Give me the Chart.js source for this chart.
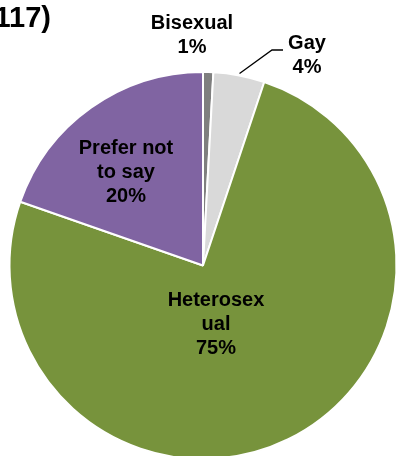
<!DOCTYPE html>
<html>
<head>
<meta charset="utf-8">
<script src="https://cdn.jsdelivr.net/npm/chart.js@4/dist/chart.umd.min.js"></script>
<style>
  html, body { margin: 0; padding: 0; background: #fff; overflow: hidden; }
  #wrap { position: absolute; left: -60px; top: 0; }
</style>
</head>
<body>
<div id="wrap"><canvas id="chart" width="470" height="470"></canvas></div>
<script>
const categories = ["Bisexual", "Gay", "Heterosexual", "Prefer not to say"];
// wrapped the way the labels are printed on the slices
const labelLines = [["Bisexual"], ["Gay"], ["Heterosex", "ual"], ["Prefer not", "to say"]];
const counts = [1, 5, 88, 23];
const sliceColors = ["#7f7f7f", "#d9d9d9", "#77933c", "#8064a2"];
const titleText = "(n=117)";

const total = counts.reduce((a, b) => a + b, 0);
const FONT = "bold 20px Arial, 'Liberation Sans', sans-serif";
const LINE_H = 24;

// label block centres, relative to the pie centre
const labelOffsets = [
  { dx: -11, dy: -230 },
  { dx: 104, dy: -210 },
  { dx: 13, dy: 59 },
  { dx: -77, dy: -93 },
];

const sliceLabels = {
  id: "sliceLabels",
  afterDatasetsDraw(chart) {
    const ctx = chart.ctx;
    const arcs = chart.getDatasetMeta(0).data;
    ctx.save();

    // title, running off the left edge
    ctx.font = "bold 29px Arial, 'Liberation Sans', sans-serif";
    ctx.fillStyle = "#000";
    ctx.textAlign = "right";
    ctx.textBaseline = "alphabetic";
    ctx.fillText(titleText, 111, 27);

    ctx.font = FONT;
    ctx.textAlign = "center";
    ctx.textBaseline = "middle";
    arcs.forEach((arc, i) => {
      const pct = Math.round(counts[i] / total * 100) + "%";
      const lines = labelLines[i].concat(pct);
      const cx = arc.x + labelOffsets[i].dx;
      const cy = arc.y + labelOffsets[i].dy;
      const y0 = cy - (lines.length - 1) * LINE_H / 2;
      lines.forEach((t, k) => ctx.fillText(t, cx, y0 + k * LINE_H));

      // leader line for the small outside label
      if (i === 1) {
        const mid = (arc.startAngle + arc.endAngle) / 2;
        const r = arc.outerRadius + 2;
        ctx.beginPath();
        ctx.moveTo(arc.x + Math.cos(mid) * r, arc.y + Math.sin(mid) * r);
        ctx.lineTo(cx - 35, cy - 5.5);
        ctx.lineTo(cx - 24, cy - 5.5);
        ctx.strokeStyle = "#000";
        ctx.lineWidth = 1.3;
        ctx.stroke();
      }
    });
    ctx.restore();
  }
};

new Chart(document.getElementById("chart"), {
  type: "pie",
  data: {
    labels: categories,
    datasets: [{
      data: counts,
      backgroundColor: sliceColors,
      borderColor: "#ffffff",
      borderWidth: 2,
      radius: 193.5,
    }],
  },
  options: {
    responsive: false,
    animation: false,
    layout: { padding: { left: 69.5, right: 13.5, top: 72, bottom: 11 } },
    plugins: {
      legend: { display: false },
      tooltip: { enabled: false },
      title: { display: false },
    },
  },
  plugins: [sliceLabels],
});
</script>
</body>
</html>
